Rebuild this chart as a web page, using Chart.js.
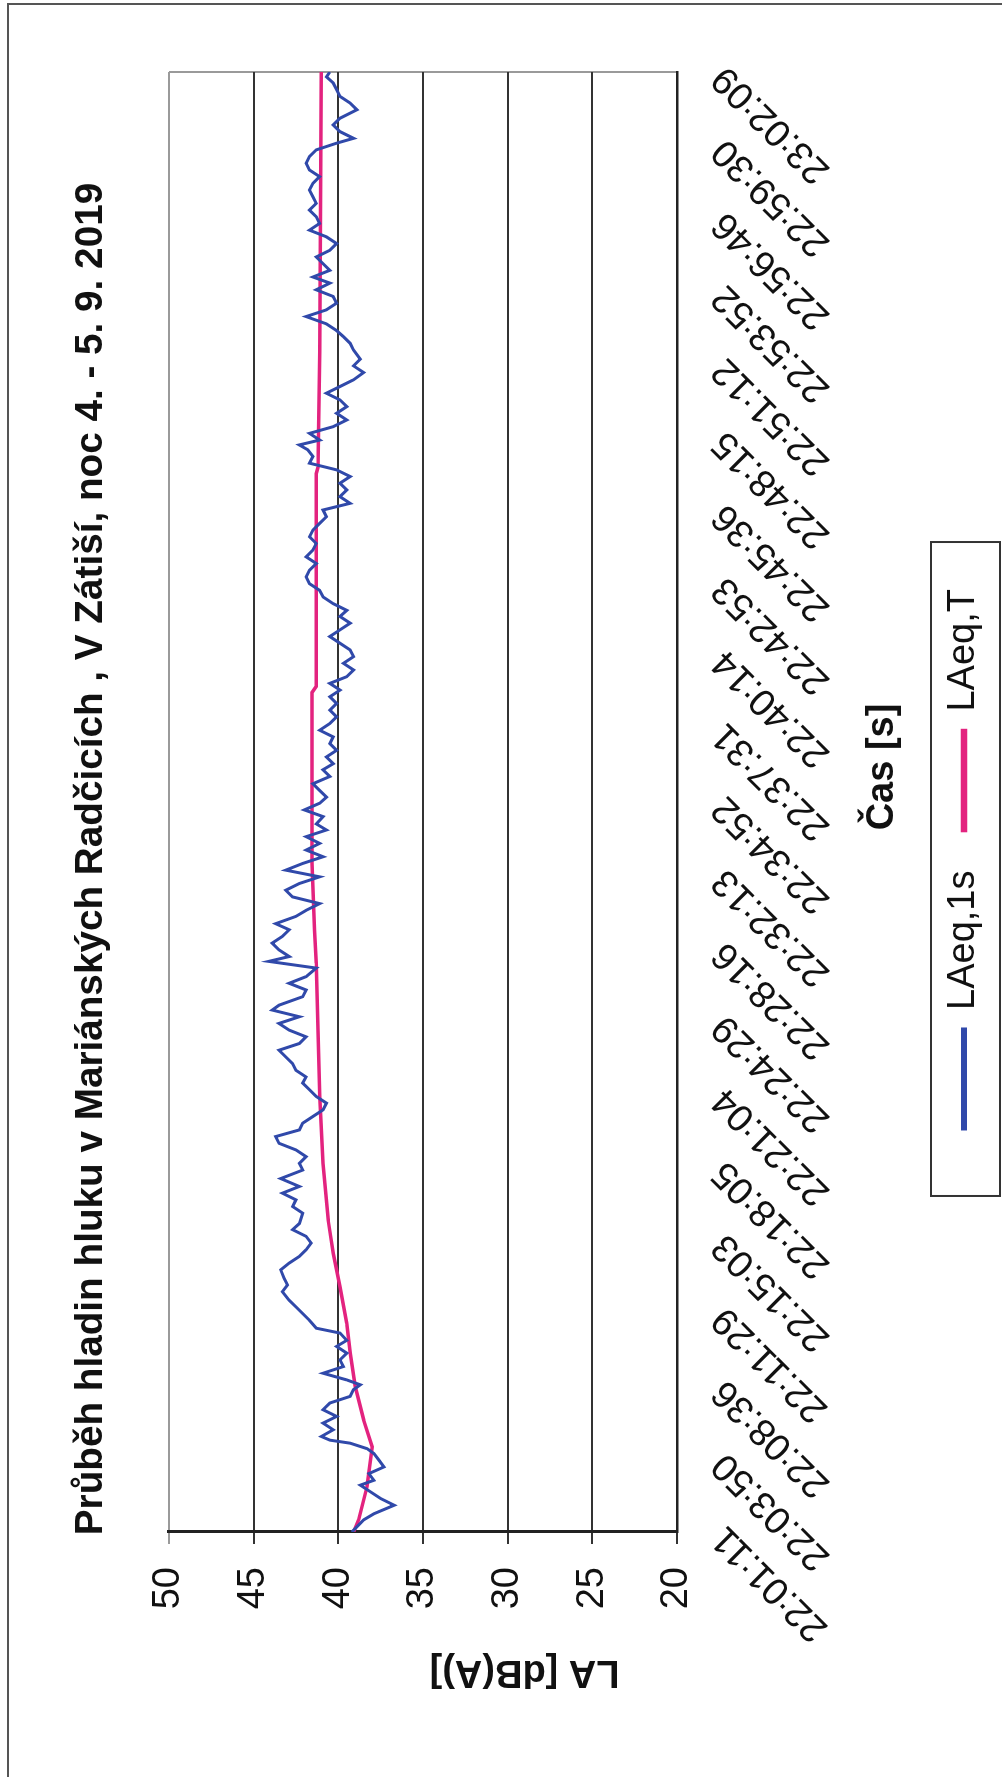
<!DOCTYPE html>
<html lang="cs">
<head>
<meta charset="UTF-8">
<title>Průběh hladin hluku</title>
<script src="https://cdn.jsdelivr.net/npm/chart.js"></script>
<style>
    html, body { margin: 0; padding: 0; background: #fff; }
    body { width: 1002px; height: 1777px; position: relative; overflow: hidden; }
    /* scanned page edge, only top and left show */
    #frame { position: absolute; left: 7px; top: 3px; width: 1100px; height: 1900px;
             border-left: 2px solid #555; border-top: 2px solid #555; }
    /* the chart is printed turned a quarter left */
    #turn { position: absolute; left: 0; top: 0; width: 1777px; height: 1002px;
            transform-origin: 0 0; transform: translate(0, 1777px) rotate(-90deg); }
    #noise { position: absolute; left: 40px; top: 0; }
</style>
</head>
<body>
<div id="frame"></div>
<div id="turn"><canvas id="noise" width="1737" height="1002"></canvas></div>

<script>
    // time axis: a label every 12 samples
    const timeLabels = ['22:01:11', '22:03:50', '22:08:36', '22:11:29', '22:15:03', '22:18:05', '22:21:04',
        '22:24:29', '22:28:16', '22:32:13', '22:34:52', '22:37:31', '22:40:14', '22:42:53', '22:45:36',
        '22:48:15', '22:51:12', '22:53:52', '22:56:46', '22:59:30', '23:02:09'];
    const stepPerLabel = 12;

    // LAeq,1s (sample position, dB)
    const laeq1sAt = [0, 2, 3, 4.4, 5.5, 6.6, 7.7, 8.5, 9.6, 10.7, 11.8, 12.9, 13.7, 14.6, 15.1, 15.7, 16.8, 17.9,
        19, 20.1, 21.2, 22.3, 23.4, 24.2, 25, 26.1, 27.2, 28.3, 29.4, 30.5, 31.5, 32.7, 33.5, 34.8, 35.9, 37, 38.1,
        39.5, 40.6, 41.7, 43.1, 44.2, 45.3, 46.4, 47.5, 48.6, 49.7, 50.7, 52.4, 53.5, 54.6, 55.7, 56.8, 58.1, 59.5,
        60.6, 61.7, 62.8, 63.9, 65, 66.1, 67.2, 68.3, 69.4, 70.5, 71.6, 72.7, 73.8, 74.8, 75.9, 77, 78.1, 79.2,
        80.3, 81.4, 82.5, 83.6, 84.7, 85.8, 86.6, 88, 89.1, 90.2, 91.3, 92.7, 93.8, 94.6, 95.7, 96.8, 97.9, 99,
        100, 101.2, 102.2, 103.3, 104.4, 105.5, 106.6, 107.7, 108.8, 109.9, 111, 112.1, 113.2, 114.3, 115.4, 116.4,
        117.6, 118.7, 119.8, 120.8, 121.9, 123, 124.2, 125.3, 126.3, 127.4, 128.5, 129.6, 130.7, 131.8, 132.9, 134,
        135.1, 136.2, 137.3, 138.4, 139.5, 140.6, 141.7, 142.8, 143.9, 145, 147.2, 148.3, 149.4, 150.5, 151.5,
        152.6, 153.7, 154.8, 155.9, 157, 158.1, 159.2, 160.3, 161.4, 162.5, 163.6, 164.7, 165.8, 166.9, 168, 169.1,
        170.2, 171.3, 172.4, 173.5, 174.6, 175.7, 176.8, 177.9, 178.7, 179.5, 180.6, 181.7, 182.8, 183.9, 185,
        186.1, 187.2, 188.3, 189.4, 190.6, 191.7, 192.8, 194.3, 195.4, 196.5, 197.5, 198.6, 199.8, 200.9, 202,
        203.1, 204.2, 205.3, 206.3, 207.4, 208.5, 209.6, 210.7, 211.8, 212.9, 214, 215.1, 216.2, 217.3, 218.4,
        219.5, 220.6, 221.7, 222.8, 223.9, 225, 226.1, 227.2, 228.3, 229.1, 230.2, 231.3, 232.4, 233.8, 234.9,
        236, 237.1, 238.2, 239.2, 240];
    const laeq1s = [39.2, 38.5, 37.9, 36.7, 37.5, 38.1, 38.7, 37.9, 38.2, 37.3, 37.6, 37.9, 38.3, 39.3, 40.5, 41.0,
        40.3, 40.9, 40.1, 40.9, 40.5, 39.3, 39.1, 38.7, 39.5, 40.9, 39.7, 39.9, 39.5, 40.1, 39.5, 39.9, 41.3, 41.7,
        42.1, 42.5, 42.9, 43.3, 43.0, 43.2, 43.4, 42.9, 42.3, 41.9, 41.6, 41.9, 42.7, 42.3, 42.1, 42.7, 42.5, 43.3,
        42.3, 43.4, 42.1, 42.3, 41.9, 42.5, 43.5, 43.7, 42.3, 42.1, 41.5, 40.9, 40.7, 41.3, 41.7, 42.1, 41.9, 42.5,
        42.7, 43.1, 43.5, 42.3, 41.9, 42.9, 43.5, 42.3, 43.9, 43.5, 42.1, 41.9, 42.9, 41.9, 41.3, 44.1, 42.9, 43.5,
        43.9, 43.3, 42.9, 43.7, 42.5, 41.9, 41.1, 42.7, 43.1, 42.3, 41.1, 43.1, 42.1, 40.9, 41.9, 41.1, 41.9, 40.7,
        41.3, 40.9, 42.0, 41.1, 40.7, 41.1, 41.5, 40.5, 40.9, 40.3, 40.7, 40.1, 40.5, 40.3, 41.1, 40.5, 40.1, 40.5,
        40.1, 40.5, 39.9, 40.5, 39.5, 39.1, 39.7, 39.1, 39.3, 40.5, 39.9, 39.3, 39.9, 39.5, 40.3, 40.9, 41.1, 41.7,
        41.9, 41.7, 41.3, 41.9, 41.5, 41.3, 41.7, 41.5, 41.1, 40.7, 40.9, 39.3, 39.9, 39.5, 39.9, 39.3, 40.1, 41.7,
        41.5, 41.8, 42.3, 41.1, 41.7, 40.3, 39.5, 40.1, 39.5, 39.9, 40.7, 39.9, 39.1, 38.5, 39.1, 38.7, 39.1, 39.3,
        39.7, 40.1, 40.7, 41.9, 40.7, 40.1, 40.3, 41.3, 40.5, 41.5, 40.5, 40.9, 41.3, 40.5, 40.1, 40.7, 41.7, 41.1,
        41.3, 41.7, 41.3, 41.5, 41.7, 41.5, 41.1, 41.7, 41.9, 41.7, 41.3, 40.1, 39.1, 39.9, 40.3, 39.9, 38.9, 39.3,
        39.9, 40.1, 40.3, 40.7, 40.5];

    // LAeq,T (running equivalent level)
    const laeqTAt = [0, 2, 7.5, 14, 18.4, 23.9, 29.4, 34.3, 40.3, 45.8, 51.3, 60.6, 71.6, 82.5, 93.5, 99, 110,
        138, 139, 174, 175, 194, 217, 240];
    const laeqT = [39.1, 38.8, 38.3, 38.0, 38.5, 39.0, 39.3, 39.5, 39.9, 40.3, 40.6, 40.9, 41.1, 41.2, 41.3, 41.4,
        41.55, 41.55, 41.3, 41.3, 41.2, 41.1, 41.05, 41.0];

    function pairs(xs, ys) {
        return xs.map((x, i) => ({ x: x, y: ys[i] }));
    }

    const fontFamily = '"Liberation Sans", Arial, sans-serif';
    Chart.defaults.font.family = fontFamily;
    Chart.defaults.color = '#111';

    // box drawn round the legend, like the Excel one
    const legendFrame = {
        id: 'legendFrame',
        afterDraw(chart) {
            const boxes = chart.legend && chart.legend.legendHitBoxes;
            if (!boxes || !boxes.length) return;
            const first = boxes[0];
            const last = boxes[boxes.length - 1];
            const ctx = chart.ctx;
            ctx.save();
            ctx.strokeStyle = '#333';
            ctx.lineWidth = 2;
            ctx.strokeRect(first.left - 67, first.top - 14,
                last.left + last.width - first.left + 114, first.height + 31);
            ctx.restore();
        }
    };

    // axis titles were moved by hand in the original, so they are placed off centre here
    const axisTitles = {
        id: 'axisTitles',
        afterDraw(chart) {
            const a = chart.chartArea;
            const ctx = chart.ctx;
            ctx.save();
            ctx.font = 'bold 38px ' + fontFamily;
            ctx.fillStyle = '#111';
            ctx.textAlign = 'center';
            ctx.textBaseline = 'middle';
            ctx.fillText('Čas [s]', (a.left + a.right) / 2 + 35, a.bottom + 206);
            ctx.translate(66, a.bottom - 0.3 * (a.bottom - a.top));
            ctx.rotate(-Math.PI / 2);
            ctx.fillText('LA [dB(A)]', 0, 0);
            ctx.restore();
        }
    };

    new Chart(document.getElementById('noise'), {
        type: 'line',
        data: {
            datasets: [{
                label: 'LAeq,1s',
                data: pairs(laeq1sAt, laeq1s),
                borderColor: '#3049aa',
                backgroundColor: '#6d8bd6',
                borderWidth: 3,
                pointRadius: 0,
                tension: 0
            }, {
                label: 'LAeq,T',
                data: pairs(laeqTAt, laeqT),
                borderColor: '#e3237f',
                backgroundColor: '#e85a9c',
                borderWidth: 3.5,
                pointRadius: 0,
                tension: 0
            }]
        },
        options: {
            responsive: false,
            animation: false,
            layout: { padding: { top: 68, right: 72, bottom: 9, left: 91 } },
            plugins: {
                title: {
                    display: true,
                    text: 'Průběh hladin hluku v Mariánských Radčicích , V Zátiší, noc 4. - 5. 9. 2019',
                    font: { size: 38.7, weight: 'bold' },
                    color: '#111',
                    padding: { top: 0, bottom: 54.5 }
                },
                legend: {
                    position: 'bottom',
                    labels: { boxWidth: 100, boxHeight: 3, padding: 40, font: { size: 38 }, color: '#111' }
                },
                tooltip: { enabled: false }
            },
            scales: {
                x: {
                    type: 'linear',
                    min: 0,
                    max: 240,
                    afterFit: s => { s.height = 228; },
                    grid: {
                        drawTicks: false,
                        lineWidth: 2,
                        color: c => (c.tick && c.tick.value === 240) ? '#9a9a9a' : 'rgba(0,0,0,0)'
                    },
                    border: { color: '#222', width: 2.5 },
                    ticks: {
                        stepSize: stepPerLabel,
                        autoSkip: false,
                        maxRotation: 45,
                        minRotation: 45,
                        padding: 26,
                        font: { size: 38 },
                        color: '#111',
                        callback: v => timeLabels[Math.round(v / stepPerLabel)]
                    }
                },
                y: {
                    min: 20,
                    max: 50,
                    afterFit: s => { s.width = 114; },
                    grid: {
                        lineWidth: 2,
                        tickLength: 12,
                        color: c => (c.tick && c.tick.value === 50) ? '#9a9a9a' : '#333'
                    },
                    border: { color: '#222', width: 3 },
                    ticks: { stepSize: 5, padding: 23, font: { size: 38 }, color: '#111' }
                }
            }
        },
        plugins: [legendFrame, axisTitles]
    });
</script>
</body>
</html>
